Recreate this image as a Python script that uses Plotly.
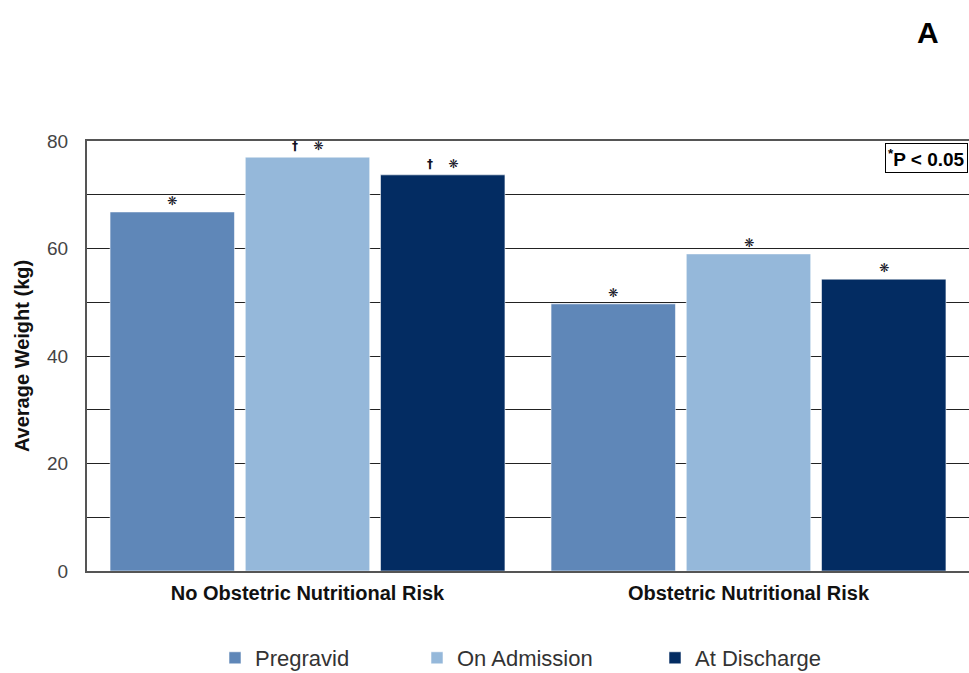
import plotly.graph_objects as go

# Average weight (kg) per nutritional-risk group and time point
categories = ["No Obstetric Nutritional Risk", "Obstetric Nutritional Risk"]
series_names = ["Pregravid", "On Admission", "At Discharge"]
pregravid = [66.8, 49.7]
on_admission = [77.0, 59.0]
at_discharge = [73.7, 54.3]

# significance markers shown above each bar
sig_pregravid = ["❋", "❋"]
sig_admission = ["<b>†</b>    ❋", "❋"]
sig_discharge = ["<b>†</b>    ❋", "❋"]

y_tick_values = [0, 10, 20, 30, 40, 50, 60, 70, 80]
y_tick_labels = ["0", "", "20", "", "40", "", "60", "", "80"]

colors = ["#5f87b8", "#95b8da", "#032c62"]
values = [pregravid, on_admission, at_discharge]
markers = [sig_pregravid, sig_admission, sig_discharge]

BARGAP = 0.08
GROUPGAP = 0.08
FONT = "Liberation Sans, Arial, sans-serif"

# pixel frame of the plotting area
W, H = 969, 673
L, R, T, B = 87, 0, 141, 102
PW, PH = W - L - R, H - T - B

x_pos = list(range(len(categories)))

# one legend per series so each entry sits at its own spot along the bottom
legend_ids = ["legend", "legend2", "legend3"]
legend_x_px = [215, 417, 655]

fig = go.Figure()
for name, vals, col, lid in zip(series_names, values, colors, legend_ids):
    fig.add_trace(go.Bar(
        x=x_pos, y=vals, name=name, legend=lid,
        marker=dict(color=col, line=dict(color="rgba(255,255,255,0.55)", width=1)),
    ))

# markers above bars, placed at each bar's center in the group
n = len(series_names)
slot = (1 - BARGAP) / n
annotations = []
for j, (vals, marks) in enumerate(zip(values, markers)):
    for i, (v, m) in enumerate(zip(vals, marks)):
        annotations.append(dict(
            x=x_pos[i] + (j - (n - 1) / 2) * slot, y=v, xref="x", yref="y",
            text=m, showarrow=False, yanchor="bottom", yshift=2,
            font=dict(family="DejaVu Sans, " + FONT, size=12, color="#111122"),
        ))

annotations.append(dict(
    x=(885 - L) / PW, y=1, xref="paper", yref="paper", xanchor="left", yanchor="top",
    yshift=-2,
    text="<sup>*</sup>P &lt; 0.05", showarrow=False,
    font=dict(family=FONT, size=19, color="#000000", weight="bold"),
    bordercolor="#000000", borderwidth=1, borderpad=2, bgcolor="#ffffff",
))
annotations.append(dict(
    x=(928 - L) / PW, y=1 + (T - 32) / PH, xref="paper", yref="paper",
    xanchor="center", yanchor="middle", showarrow=False, text="A",
    font=dict(family=FONT, size=30, color="#000000", weight="bold"),
))

legend_style = dict(
    orientation="h", xanchor="left", y=(T + PH - 658) / PH, yanchor="middle",
    font=dict(family=FONT, size=22, color="#333333"),
    bgcolor="rgba(0,0,0,0)",
)

fig.update_layout(
    width=W, height=H,
    margin=dict(l=L, r=R, t=T, b=B, autoexpand=False),
    paper_bgcolor="#ffffff", plot_bgcolor="#ffffff",
    barmode="group", bargap=BARGAP, bargroupgap=GROUPGAP,
    font=dict(family=FONT, color="#333333"),
    showlegend=True,
    legend=dict(x=(legend_x_px[0] - L) / PW, **legend_style),
    legend2=dict(x=(legend_x_px[1] - L) / PW, **legend_style),
    legend3=dict(x=(legend_x_px[2] - L) / PW, **legend_style),
    xaxis=dict(
        range=[-0.5, len(categories) - 0.5],
        tickvals=x_pos, ticktext=categories,
        tickfont=dict(family=FONT, size=20, color="#111111", weight="bold"),
        showline=True, linecolor="#555555", linewidth=2, mirror=True,
        showgrid=False, zeroline=False, ticks="", ticklabelstandoff=3,
    ),
    yaxis=dict(
        range=[0, 80], tickvals=y_tick_values, ticktext=y_tick_labels,
        tickfont=dict(family=FONT, size=19, color="#444444"),
        showline=True, linecolor="#555555", linewidth=2,
        showgrid=True, gridcolor="#222222", gridwidth=1,
        zeroline=False, ticks="", ticklabelstandoff=13,
        title=dict(text="Average Weight (kg)", standoff=12,
                   font=dict(family=FONT, size=20, color="#111111", weight="bold")),
    ),
    annotations=annotations,
)

fig.write_html("out.html")
